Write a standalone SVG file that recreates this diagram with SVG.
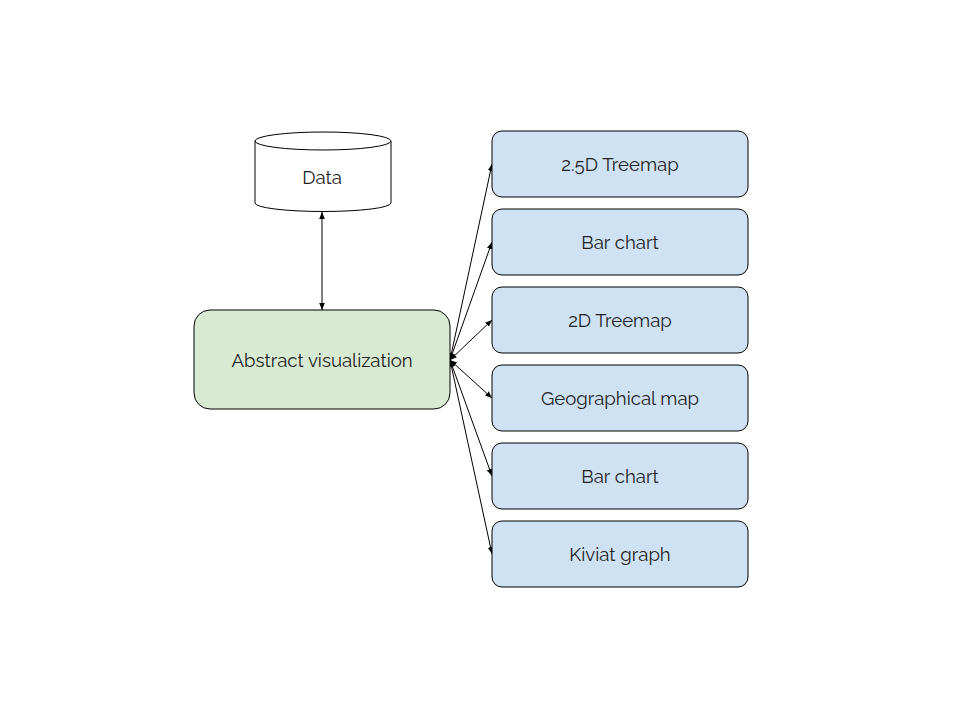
<svg xmlns="http://www.w3.org/2000/svg" width="960" height="720" viewBox="0 0 960 720">
<style>
.t{font-family:Raleway,Lato,"Open Sans",sans-serif;font-size:18.6px;fill:#222;text-anchor:middle;dominant-baseline:central}
.b{fill:#cfe2f3;stroke:#000;stroke-width:1}
.c{stroke:#000;stroke-width:1;fill:none;marker-start:url(#a);marker-end:url(#a)}
</style>
<defs>
<marker id="a" viewBox="0 0 10 10" refX="10" refY="5" markerWidth="7" markerHeight="7" orient="auto-start-reverse" markerUnits="userSpaceOnUse">
<path d="M0,1 L10,5 L0,9 z" fill="#000"/>
</marker>
</defs>
<rect width="960" height="720" fill="#fff"/>
<g id="connectors">
<line class="c" x1="322" y1="212" x2="322" y2="310"/>
<line class="c" x1="450" y1="360" x2="492" y2="164"/>
<line class="c" x1="450" y1="360" x2="492" y2="242"/>
<line class="c" x1="450" y1="360" x2="492" y2="320"/>
<line class="c" x1="450" y1="360" x2="492" y2="398"/>
<line class="c" x1="450" y1="360" x2="492" y2="476"/>
<line class="c" x1="450" y1="360" x2="492" y2="554"/>
</g>
<g id="data">
<path d="M255,141 L255,203 A68,8.5 0 0 0 391,203 L391,141 A68,9 0 0 0 255,141 Z" fill="#fff" stroke="#000"/>
<path d="M255,141 A68,9 0 0 0 391,141" fill="none" stroke="#000"/>
<text class="t" x="322" y="177">Data</text>
</g>
<g id="abstract">
<rect x="194" y="310" width="256" height="99" rx="16" fill="#d9ead3" stroke="#000"/>
<text class="t" x="322" y="360">Abstract visualization</text>
</g>
<g id="n1"><rect class="b" x="492" y="131" width="256" height="66" rx="10"/><text class="t" x="620" y="164">2.5D Treemap</text></g>
<g id="n2"><rect class="b" x="492" y="209" width="256" height="66" rx="10"/><text class="t" x="620" y="242">Bar chart</text></g>
<g id="n3"><rect class="b" x="492" y="287" width="256" height="66" rx="10"/><text class="t" x="620" y="320">2D Treemap</text></g>
<g id="n4"><rect class="b" x="492" y="365" width="256" height="66" rx="10"/><text class="t" x="620" y="398">Geographical map</text></g>
<g id="n5"><rect class="b" x="492" y="443" width="256" height="66" rx="10"/><text class="t" x="620" y="476">Bar chart</text></g>
<g id="n6"><rect class="b" x="492" y="521" width="256" height="66" rx="10"/><text class="t" x="620" y="554">Kiviat graph</text></g>
</svg>
